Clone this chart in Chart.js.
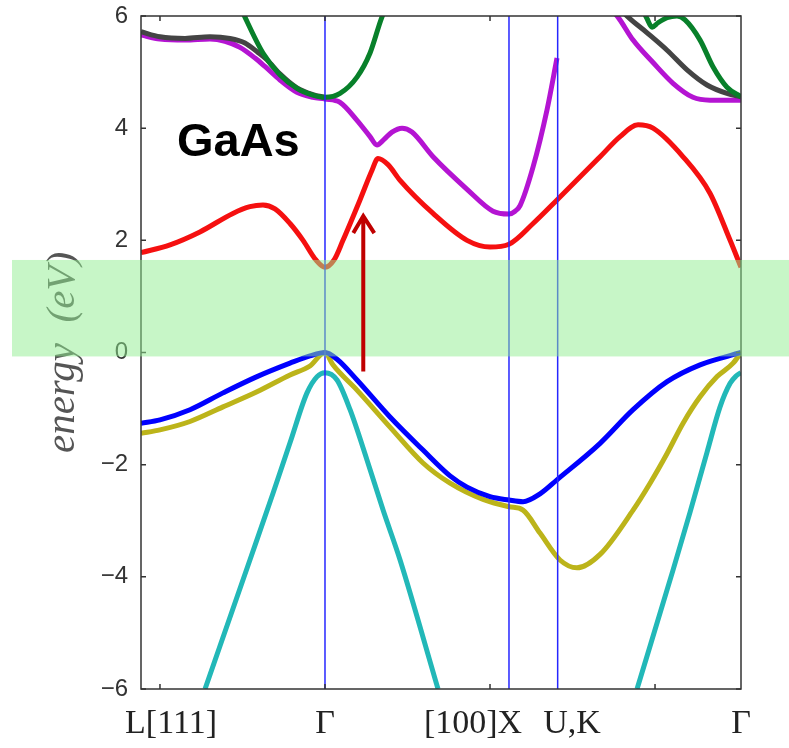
<!DOCTYPE html>
<html>
<head>
<meta charset="utf-8">
<script src="https://cdn.jsdelivr.net/npm/chart.js@4"></script>
<style>
  html, body { margin: 0; padding: 0; background: #fff; }
</style>
</head>
<body>
<canvas id="bands" width="789" height="748"></canvas>
<script>
// k-path coordinate (axis units), energies in eV
const kLabels = ['L[111]', 'Γ', '[100]X', 'U,K', 'Γ'];
const kLabelPos = [0.067, 1.0, 1.897, 2.497, 3.521];
const kTicks = [0, 1, 2, 3];
const kLines = [1.0, 2.115, 2.41];   // Γ, X, U/K
const kMin = -0.115, kMax = 3.521;
const eTicks = [-6, -4, -2, 0, 2, 4, 6];

const redBand = [
  [-0.115, 1.78], [0.061, 1.92], [0.242, 2.15], [0.442, 2.48], [0.545, 2.60], [0.624, 2.63],
  [0.697, 2.56], [0.788, 2.30], [0.867, 2.00], [0.945, 1.65], [1.0, 1.52], [1.055, 1.65],
  [1.109, 2.00], [1.212, 2.72], [1.285, 3.25], [1.321, 3.46], [1.382, 3.35], [1.455, 3.07],
  [1.655, 2.48], [1.861, 2.00], [2.0, 1.88], [2.115, 1.93], [2.261, 2.30], [2.406, 2.72],
  [2.667, 3.49], [2.788, 3.85], [2.897, 4.06], [2.988, 4.00], [3.170, 3.49], [3.333, 2.84],
  [3.455, 2.00], [3.521, 1.52]
];
const purpleBandA = [
  [-0.115, 5.66], [0.0, 5.59], [0.152, 5.57], [0.303, 5.59], [0.394, 5.55], [0.485, 5.44],
  [0.576, 5.25], [0.636, 5.10], [0.727, 4.86], [0.830, 4.64], [0.927, 4.55], [1.0, 4.52],
  [1.091, 4.46], [1.194, 4.14], [1.273, 3.85], [1.315, 3.70], [1.358, 3.80], [1.406, 3.93],
  [1.467, 4.00], [1.527, 3.93], [1.655, 3.49], [1.861, 2.91], [2.018, 2.52], [2.115, 2.47],
  [2.152, 2.52], [2.182, 2.62], [2.261, 3.31], [2.345, 4.32], [2.406, 5.25]
];
const purpleBandB = [
  [2.739, 6.10], [2.776, 5.98], [2.867, 5.57], [2.988, 5.17], [3.109, 4.80], [3.230, 4.55],
  [3.333, 4.50], [3.521, 4.50]
];
const greyBandA = [
  [-0.115, 5.72], [0.0, 5.63], [0.152, 5.60], [0.303, 5.63], [0.424, 5.60], [0.515, 5.52],
  [0.594, 5.35], [0.648, 5.22], [0.727, 4.97], [0.830, 4.72], [0.927, 4.60], [1.0, 4.55]
];
const greyBandB = [
  [2.800, 6.10], [2.830, 6.00], [2.952, 5.70], [3.073, 5.39], [3.194, 5.04], [3.315, 4.77],
  [3.436, 4.62], [3.521, 4.56]
];
const greenBandA = [
  [0.497, 6.10], [0.515, 5.98], [0.624, 5.34], [0.727, 4.95], [0.830, 4.71], [0.927, 4.59],
  [1.0, 4.55], [1.091, 4.62], [1.194, 4.91], [1.273, 5.34], [1.345, 5.98], [1.364, 6.10]
];
const greenBandB = [
  [2.927, 6.10], [2.952, 5.95], [2.982, 5.80], [3.018, 5.88], [3.073, 5.97], [3.133, 6.00],
  [3.182, 5.93], [3.273, 5.57], [3.352, 5.09], [3.436, 4.73], [3.521, 4.56]
];
const blueBand = [
  [-0.115, -1.26], [0.0, -1.20], [0.182, -1.02], [0.382, -0.72], [0.588, -0.43], [0.788, -0.19],
  [0.909, -0.06], [1.0, 0.0], [1.073, -0.12], [1.194, -0.49], [1.394, -1.15], [1.594, -1.74],
  [1.758, -2.20], [1.861, -2.40], [2.0, -2.57], [2.115, -2.63], [2.200, -2.66], [2.303, -2.52],
  [2.406, -2.27], [2.667, -1.62], [2.867, -1.02], [3.073, -0.52], [3.273, -0.22], [3.521, 0.0]
];
const oliveBand = [
  [-0.115, -1.44], [0.0, -1.38], [0.182, -1.23], [0.382, -0.97], [0.588, -0.70], [0.788, -0.40],
  [0.909, -0.24], [1.0, 0.0], [1.048, -0.22], [1.194, -0.67], [1.394, -1.33], [1.594, -1.97],
  [1.758, -2.33], [1.958, -2.62], [2.115, -2.75], [2.200, -2.81], [2.303, -3.22], [2.424, -3.70],
  [2.527, -3.84], [2.667, -3.60], [2.867, -2.81], [2.970, -2.33], [3.073, -1.80], [3.170, -1.26],
  [3.273, -0.79], [3.376, -0.43], [3.473, -0.19], [3.521, 0.0]
];
const cyanBandA = [
  [0.273, -6.00], [0.545, -3.70], [0.685, -2.51], [0.788, -1.61], [0.891, -0.72], [0.952, -0.43],
  [1.0, -0.36], [1.073, -0.49], [1.152, -1.02], [1.255, -1.92], [1.352, -2.81], [1.455, -3.70],
  [1.685, -6.00]
];
const cyanBandB = [
  [2.891, -6.00], [3.109, -3.88], [3.212, -2.85], [3.315, -1.78], [3.394, -0.97], [3.455, -0.55],
  [3.491, -0.42], [3.521, -0.36]
];

// band gap highlight and excitation arrow
const gapBottom = -0.07, gapTop = 1.65;
const arrowK = 1.232, arrowFrom = -0.34, arrowTo = 2.45;
const labelText = 'GaAs', labelK = 0.103, labelE = 3.50;

function band(pts, color, width) {
  return {
    data: pts.map(p => ({ x: p[0], y: p[1] })),
    borderColor: color,
    borderWidth: width,
    pointRadius: 0,
    cubicInterpolationMode: 'monotone',
    fill: false,
    clip: 0
  };
}

const decor = {
  id: 'decor',
  afterDatasetsDraw(chart) {
    const { ctx, chartArea: a, scales: { x, y } } = chart;
    ctx.save();
    // frame and inward ticks
    ctx.strokeStyle = '#333';
    ctx.lineWidth = 1.5;
    ctx.strokeRect(a.left, a.top, a.right - a.left, a.bottom - a.top);
    ctx.beginPath();
    eTicks.forEach(v => {
      const py = y.getPixelForValue(v);
      ctx.moveTo(a.left, py); ctx.lineTo(a.left + 5, py);
      ctx.moveTo(a.right, py); ctx.lineTo(a.right - 5, py);
    });
    kTicks.forEach(v => {
      const px = x.getPixelForValue(v);
      ctx.moveTo(px, a.bottom); ctx.lineTo(px, a.bottom - 5);
      ctx.moveTo(px, a.top); ctx.lineTo(px, a.top + 5);
    });
    ctx.stroke();

    // gap band
    const yt = y.getPixelForValue(gapTop), yb = y.getPixelForValue(gapBottom);
    ctx.fillStyle = 'rgba(144,238,144,0.5)';
    ctx.fillRect(12, yt, chart.width - 12, yb - yt);

    // arrow
    const ax = x.getPixelForValue(arrowK);
    const a0 = y.getPixelForValue(arrowFrom), a1 = y.getPixelForValue(arrowTo);
    ctx.strokeStyle = '#c00000';
    ctx.lineWidth = 4;
    ctx.beginPath();
    ctx.moveTo(ax, a0); ctx.lineTo(ax, a1 + 2);
    ctx.moveTo(ax - 10, a1 + 18); ctx.lineTo(ax, a1 + 1); ctx.lineTo(ax + 11, a1 + 18);
    ctx.stroke();

    // material label
    ctx.fillStyle = '#000';
    ctx.font = 'bold 47px "Liberation Sans", Arial, sans-serif';
    ctx.textBaseline = 'alphabetic';
    ctx.textAlign = 'left';
    ctx.fillText(labelText, x.getPixelForValue(labelK), y.getPixelForValue(labelE));
    ctx.restore();
  }
};

const datasets = [
  ...kLines.map(k => ({ ...band([[k, -6], [k, 6]], '#2626ff', 1.5), cubicInterpolationMode: 'default', tension: 0 })),
  band(blueBand, '#0000ff', 5),
  band(oliveBand, '#bcb41a', 5),
  band(cyanBandA, '#22b8b8', 5),
  band(cyanBandB, '#22b8b8', 5),
  band(redBand, '#f51010', 5),
  band(greenBandA, '#08802a', 5),
  band(greenBandB, '#08802a', 5),
  band(greyBandA, '#444444', 5),
  band(greyBandB, '#444444', 5),
  band(purpleBandA, '#b414d2', 5),
  band(purpleBandB, '#b414d2', 5)
];

new Chart(document.getElementById('bands'), {
  type: 'line',
  data: { datasets },
  options: {
    responsive: false,
    animation: false,
    layout: { padding: { top: 16, right: 48, bottom: 0, left: 39 } },
    plugins: { legend: { display: false }, tooltip: { enabled: false } },
    scales: {
      x: {
        type: 'linear',
        min: kMin,
        max: kMax,
        grid: { display: false, drawTicks: false },
        border: { display: false },
        afterBuildTicks: s => { s.ticks = kLabelPos.map(v => ({ value: v })); },
        afterFit: s => { s.height = 59; },
        ticks: {
          autoSkip: false,
          maxRotation: 0,
          padding: 15,
          color: '#222',
          font: { family: '"Liberation Serif", serif', size: 34 },
          callback: (v, i) => kLabels[i]
        }
      },
      y: {
        min: -6,
        max: 6,
        grid: { display: false, drawTicks: false },
        border: { display: false },
        afterBuildTicks: s => { s.ticks = eTicks.map(v => ({ value: v })); },
        afterFit: s => { s.width = 102; s.paddingTop = 0; s.paddingBottom = 0; },
        ticks: {
          padding: 13,
          color: '#333',
          font: { family: '"Liberation Sans", Arial, sans-serif', size: 24 },
          callback: v => String(v).replace('-', '\u2212')
        },
        title: {
          display: true,
          text: 'energy  (eV)',
          color: '#555',
          padding: 0,
          font: { family: '"Liberation Serif", serif', style: 'italic', size: 41 }
        }
      }
    }
  },
  plugins: [decor]
});
</script>
</body>
</html>
